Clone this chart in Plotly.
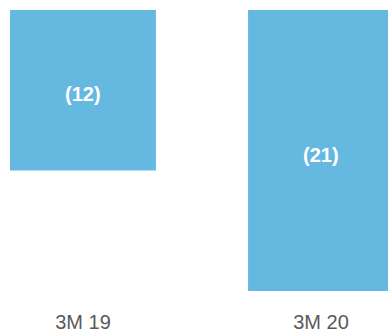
import plotly.graph_objects as go

# Quarterly figures (negative values, shown in parentheses)
periods = ["3M 19", "3M 20"]
values = [-12, -21]
labels = ["(12)", "(21)"]

bar_color = "#65B9E0"
font_family = "Liberation Sans, Arial, sans-serif"

fig = go.Figure(
    go.Bar(
        x=periods,
        y=values,
        marker=dict(color=bar_color, line=dict(width=0)),
        hoverinfo="skip",
    )
)

# Value labels centred inside each bar
for p, v, t in zip(periods, values, labels):
    fig.add_annotation(
        x=p,
        y=v / 2,
        text=f"<b>{t}</b>",
        showarrow=False,
        yshift=-4,
        font=dict(family=font_family, size=20, color="white"),
    )

fig.update_layout(
    width=388,
    height=332,
    margin=dict(l=0, r=0, t=10, b=41, autoexpand=False),
    paper_bgcolor="white",
    plot_bgcolor="white",
    bargap=0.387,
    showlegend=False,
    xaxis=dict(
        type="category",
        range=[-0.3487, 1.2815],
        automargin=False,
        showgrid=False,
        showline=False,
        zeroline=False,
        ticks="",
        ticklabelstandoff=17,
        tickfont=dict(family=font_family, size=20, color="#595959"),
    ),
    yaxis=dict(
        range=[-21, 0],
        automargin=False,
        visible=False,
        showgrid=False,
        zeroline=False,
    ),
)

fig.write_html("out.html")
